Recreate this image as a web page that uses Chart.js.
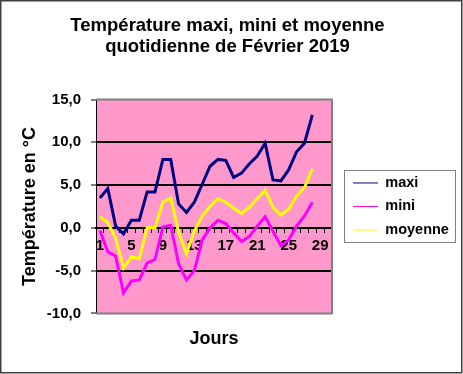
<!DOCTYPE html>
<html>
<head>
<meta charset="utf-8">
<script src="https://cdn.jsdelivr.net/npm/chart.js@4.4.1/dist/chart.umd.min.js"></script>
<style>
  html, body { margin: 0; padding: 0; background: #fff; }
</style>
</head>
<body>
<canvas id="myChart" width="463" height="374"></canvas>
<script>
// Data
const days = ['1','2','3','4','5','6','7','8','9','10','11','12','13','14','15',
              '16','17','18','19','20','21','22','23','24','25','26','27','28','29','30'];
const shownDays = ['1','5','9','13','17','21','25','29'];

const maxi = [3.5, 4.6, 0.2, -0.7, 0.9, 0.9, 4.2, 4.2, 8.0, 8.0, 2.8, 1.8, 3.0, 5.1,
              7.2, 8.0, 7.9, 5.9, 6.4, 7.5, 8.4, 9.9, 5.6, 5.5, 6.8, 8.9, 9.9, 13.2];
const mini = [-0.3, -2.8, -3.3, -7.6, -6.2, -6.1, -4.1, -3.7, 0.1, 0.3, -4.2, -6.1, -5.0, -1.4,
              0.0, 0.9, 0.5, -0.6, -1.6, -1.0, 0.2, 1.3, -0.4, -2.1, -1.4, 0.2, 1.4, 3.0];
const moyenne = [1.3, 0.6, -1.2, -4.7, -3.4, -3.6, 0.0, 0.0, 3.0, 3.5, -0.5, -3.0, -0.4, 1.4,
                 2.5, 3.4, 3.0, 2.3, 1.7, 2.4, 3.4, 4.4, 2.4, 1.5, 2.2, 3.7, 4.7, 6.9];

const yMin = -10, yMax = 15, yStep = 5;

Chart.defaults.font.family = "Arial, 'Liberation Sans', sans-serif";
Chart.defaults.color = '#000';

// background, plot area, legend frame, outer border
const frame = {
  id: 'frame',
  beforeDraw(chart) {
    const {ctx, chartArea: a} = chart;
    ctx.save();
    ctx.fillStyle = '#fff';
    ctx.fillRect(0, 0, chart.width, chart.height);
    ctx.fillStyle = '#ff99cc';
    ctx.fillRect(a.left, a.top, a.right - a.left, a.bottom - a.top);
    ctx.restore();
  },
  beforeDatasetsDraw(chart) {
    const {ctx, chartArea: a} = chart;
    ctx.save();
    ctx.strokeStyle = '#808080';
    ctx.lineWidth = 2;
    ctx.beginPath();
    ctx.moveTo(a.left, a.top);
    ctx.lineTo(a.right, a.top);
    ctx.lineTo(a.right, a.bottom);
    ctx.lineTo(a.left, a.bottom);
    ctx.stroke();
    ctx.restore();
  },
  afterDraw(chart) {
    const ctx = chart.ctx;
    const lg = chart.legend;
    const hb = lg.legendHitBoxes;
    ctx.save();
    ctx.strokeStyle = '#808080';
    ctx.lineWidth = 1;
    const y0 = Math.round(hb[0].top - 6) + 0.5;
    const last = hb[hb.length - 1];
    const y1 = Math.round(last.top + last.height + 5) + 0.5;
    ctx.strokeRect(Math.round(lg.left) + 0.5, y0, 111, y1 - y0);
    ctx.strokeStyle = '#404040';
    ctx.lineWidth = 1.5;
    ctx.strokeRect(0.75, 0.75, chart.width - 2, chart.height - 2);
    ctx.restore();
  }
};

const data = {
  labels: days,
  datasets: [
    { label: 'maxi', data: maxi, borderColor: '#000080', backgroundColor: '#000080' },
    { label: 'mini', data: mini, borderColor: '#ff00ff', backgroundColor: '#ff00ff' },
    { label: 'moyenne', data: moyenne, borderColor: '#ffff00', backgroundColor: '#ffff00' }
  ]
};

const config = {
  type: 'line',
  data,
  options: {
    responsive: false,
    devicePixelRatio: 1,
    animation: false,
    elements: {
      line: { borderWidth: 3, tension: 0 },
      point: { radius: 0 }
    },
    layout: { padding: { left: 0, right: 8, top: 0, bottom: 0 } },
    scales: {
      x: {
        type: 'category',
        offset: true,
        position: { y: 0 },
        grid: { offset: true, drawOnChartArea: false, tickLength: 4, tickColor: '#000', tickWidth: 1 },
        border: { color: '#000', width: 2 },
        ticks: {
          autoSkip: false,
          maxRotation: 0,
          padding: 5,
          font: { size: 15, weight: 'bold' },
          callback: function (v) {
            const l = this.getLabelForValue(v);
            return shownDays.includes(l) ? l : '';
          }
        }
      },
      y: {
        min: yMin,
        max: yMax,
        afterFit: (s) => { s.width = 96; },
        ticks: {
          stepSize: yStep,
          padding: 10,
          font: { size: 15, weight: 'bold' },
          callback: (v) => v.toFixed(1).replace('.', ',')
        },
        grid: {
          color: (c) => (c.tick && (c.tick.value === yMax || c.tick.value === yMin)) ? 'rgba(0,0,0,0)' : '#000',
          lineWidth: 2,
          tickColor: '#000',
          tickLength: 5,
          tickWidth: 1
        },
        border: { color: '#000', width: 1 },
        title: {
          display: true,
          text: 'Température en °C',
          font: { size: 18, weight: 'bold' },
          padding: { top: 19, bottom: 0 }
        }
      },
      gap: {
        type: 'linear',
        position: 'right',
        display: true,
        grid: { display: false },
        border: { display: false },
        ticks: { display: false },
        afterFit: (s) => { s.width = 12; }
      }
    },
    plugins: {
      title: {
        display: true,
        text: ['Température maxi, mini et moyenne', 'quotidienne de Février 2019'],
        font: { size: 18.5, weight: 'bold', lineHeight: 1.15 },
        padding: { top: 15, bottom: 42 }
      },
      subtitle: {
        display: true,
        position: 'bottom',
        fullSize: false,
        text: 'Jours',
        font: { size: 18, weight: 'bold' },
        padding: { top: 15, bottom: 24 }
      },
      legend: {
        position: 'right',
        fullSize: false,
        maxWidth: 111,
        labels: {
          usePointStyle: true,
          pointStyle: 'line',
          pointStyleWidth: 25,
          padding: 9,
          font: { size: 14.5, weight: 'bold' }
        }
      },
      tooltip: { enabled: false }
    }
  },
  plugins: [frame]
};

const myChart = new Chart(document.getElementById('myChart'), config);
</script>
</body>
</html>
